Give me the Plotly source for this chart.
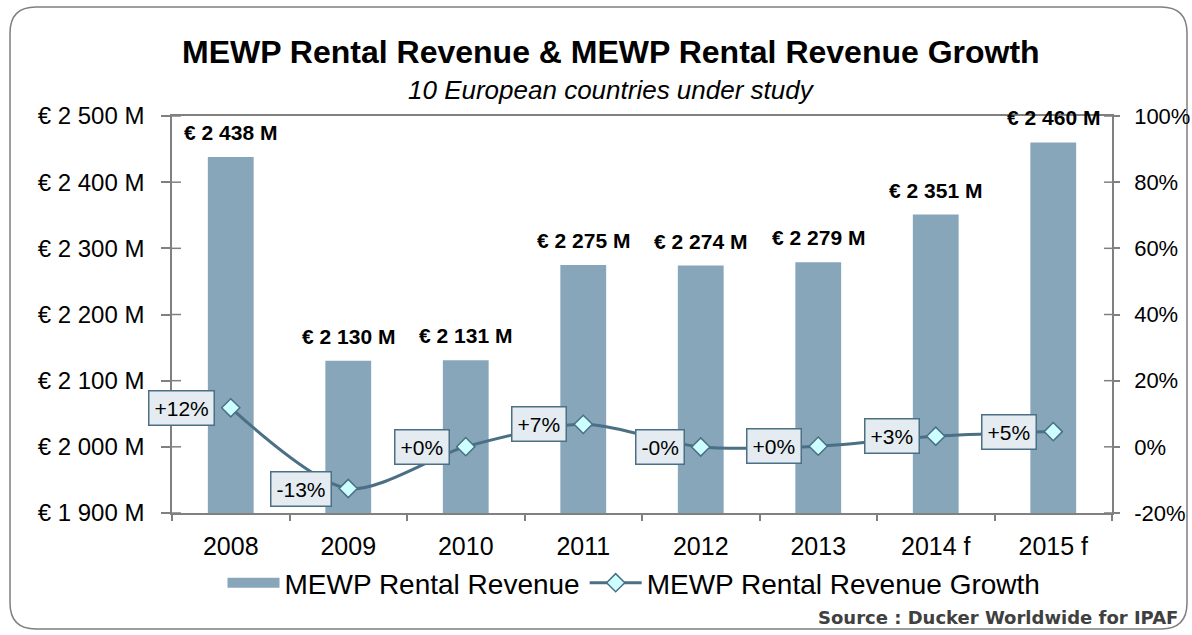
import plotly.graph_objects as go

years = ["2008", "2009", "2010", "2011", "2012", "2013", "2014 f", "2015 f"]
revenue = [2438, 2130, 2131, 2275, 2274, 2279, 2351, 2460]
growth = [0.118, -0.126, 0.0005, 0.068, -0.0004, 0.002, 0.032, 0.046]
left_ticks = [1900, 2000, 2100, 2200, 2300, 2400, 2500]
right_ticks = [-0.2, 0.0, 0.2, 0.4, 0.6, 0.8, 1.0]

BAR = "#87A6BA"
LINE = "#4B6F84"
FONT = "Arial, Liberation Sans, sans-serif"

W, H = 1192, 635
L, R, T, B = 172, 1112, 116, 513
ml, mr, mt, mb = L, W - R, T, H - B
pw, ph = R - L, B - T


def px(x):
    return (x - L) / pw


def py(y):
    return (B - y) / ph


def eur(v):
    return "€ " + f"{v:,}".replace(",", " ") + " M"


def pct(v):
    return f"{round(v * 100)}%"


fig = go.Figure()
# legend stand-in for the bar series (wide swatch like the original)
fig.add_trace(go.Scatter(
    x=[None], y=[None], name="MEWP Rental Revenue", mode="lines",
    line=dict(color=BAR, width=16), yaxis="y",
))
fig.add_trace(go.Bar(
    x=years, y=revenue, name="MEWP Rental Revenue", showlegend=False,
    marker=dict(color=BAR, line=dict(width=0)),
    yaxis="y", hoverinfo="skip",
))
fig.add_trace(go.Scatter(
    x=years, y=growth, name="MEWP Rental Revenue Growth",
    mode="lines+markers", yaxis="y2",
    line=dict(color=LINE, width=3, shape="spline", smoothing=0.8),
    marker=dict(symbol="diamond", size=14, color="#CCFFFF",
                line=dict(color=LINE, width=1.5)),
))

annotations = []
for i, v in enumerate(revenue):
    annotations.append(dict(
        x=i, y=v, xref="x", yref="y", text=f"<b>{eur(v)}</b>",
        showarrow=False, yanchor="bottom", yshift=11,
        font=dict(family=FONT, size=21, color="black"),
    ))
for i, g in enumerate(growth):
    annotations.append(dict(
        x=i, y=g, xref="x", yref="y2", text=format(g, "+.0%"),
        showarrow=False, xanchor="right", yanchor="middle", xshift=-16,
        bgcolor="#E4ECF1", bordercolor=LINE, borderwidth=1.5, borderpad=5,
        font=dict(family=FONT, size=21, color="black"),
    ))

annotations += [
    dict(x=px(611), y=py(52), xref="paper", yref="paper",
         text="<b>MEWP Rental Revenue &amp; MEWP Rental Revenue Growth</b>",
         showarrow=False, xanchor="center", yanchor="middle",
         font=dict(family=FONT, size=32, color="black")),
    dict(x=px(611), y=py(90), xref="paper", yref="paper",
         text="<i>10 European countries under study</i>",
         showarrow=False, xanchor="center", yanchor="middle",
         font=dict(family=FONT, size=26, color="black")),
    dict(x=px(1180), y=py(617), xref="paper", yref="paper",
         text="<b>Source : Ducker Worldwide for IPAF</b>",
         showarrow=False, xanchor="right", yanchor="middle",
         font=dict(family="DejaVu Sans, sans-serif", size=18, color="#404040")),
]

shapes = []
# inner halves of crossing ticks
for t in left_ticks:
    shapes.append(dict(type="line", xref="paper", yref="y", x0=0, x1=9 / pw,
                       y0=t, y1=t, line=dict(color="#808080", width=1.5)))
for t in right_ticks:
    shapes.append(dict(type="line", xref="paper", yref="y2", x0=1 - 8 / pw, x1=1,
                       y0=t, y1=t, line=dict(color="#808080", width=1.5)))

# rounded outer frame
x0, x1, y0, y1, r = 10, 1187, 7, 629, 26
path = (f"M {px(x0 + r)} {py(y0)} L {px(x1 - r)} {py(y0)} "
        f"Q {px(x1)} {py(y0)} {px(x1)} {py(y0 + r)} "
        f"L {px(x1)} {py(y1 - r)} Q {px(x1)} {py(y1)} {px(x1 - r)} {py(y1)} "
        f"L {px(x0 + r)} {py(y1)} Q {px(x0)} {py(y1)} {px(x0)} {py(y1 - r)} "
        f"L {px(x0)} {py(y0 + r)} Q {px(x0)} {py(y0)} {px(x0 + r)} {py(y0)} Z")
shapes.append(dict(type="path", xref="paper", yref="paper", path=path,
                   line=dict(color="#7F7F7F", width=1.5), layer="below"))

fig.update_layout(
    width=W, height=H, autosize=False,
    margin=dict(l=ml, r=mr, t=mt, b=mb, pad=0, autoexpand=False),
    paper_bgcolor="white", plot_bgcolor="white",
    font=dict(family=FONT, color="black"),
    bargap=0.61,
    showlegend=True,
    legend=dict(orientation="h", x=px(634), xanchor="center", y=py(583),
                yanchor="middle", font=dict(family=FONT, size=28),
                itemwidth=52, bgcolor="rgba(0,0,0,0)"),
    xaxis=dict(
        type="category", range=[-0.5, len(years) - 0.5],
        showline=True, linecolor="#808080", linewidth=1.5,
        mirror=True, ticks="outside", tickson="boundaries", ticklen=6,
        tickcolor="#808080", tickwidth=1.5, showgrid=False, automargin=False,
        tickfont=dict(family=FONT, size=25), ticklabelstandoff=10,
    ),
    yaxis=dict(
        range=[1900, 2500], tickvals=left_ticks,
        ticktext=[eur(t) for t in left_ticks],
        showline=True, linecolor="#808080", linewidth=1.5, mirror=True,
        ticks="outside", ticklen=9, tickcolor="#808080", tickwidth=1.5,
        showgrid=False, zeroline=False, automargin=False,
        tickfont=dict(family=FONT, size=24), ticklabelstandoff=12,
    ),
    yaxis2=dict(
        overlaying="y", side="right", range=[-0.2, 1.0], tickvals=right_ticks,
        ticktext=[pct(t) for t in right_ticks],
        showline=True, linecolor="#808080", linewidth=1.5,
        ticks="outside", ticklen=6, tickcolor="#808080", tickwidth=1.5,
        showgrid=False, zeroline=False, automargin=False,
        tickfont=dict(family=FONT, size=22), ticklabelstandoff=10,
    ),
    annotations=annotations,
    shapes=shapes,
)

fig.write_html("out.html", config={"displayModeBar": False},
               post_script="document.body.style.margin='0';")
